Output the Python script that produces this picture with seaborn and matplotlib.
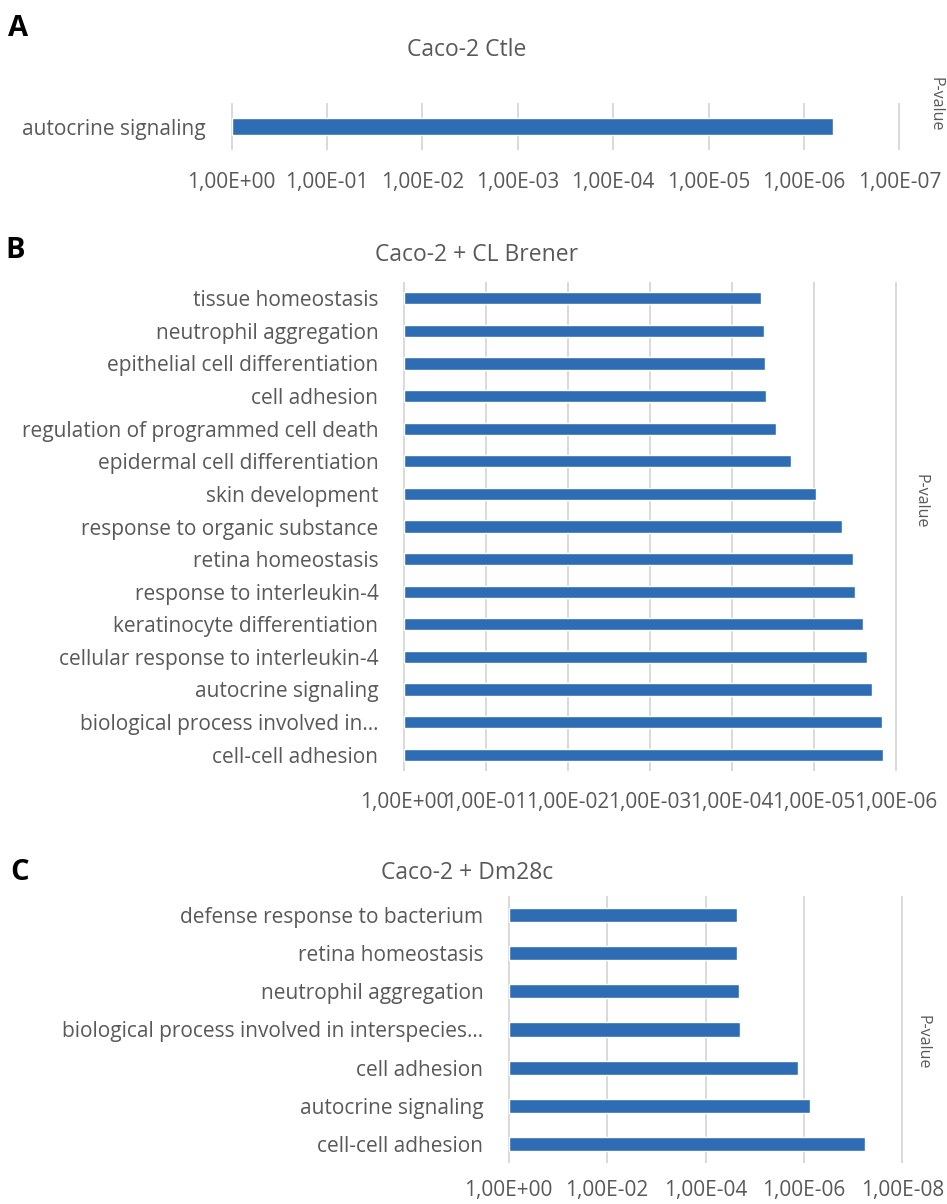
import numpy as np
import pandas as pd
import matplotlib
matplotlib.use("Agg")
import matplotlib.pyplot as plt
from matplotlib.ticker import FuncFormatter, FixedLocator
import seaborn as sns

# Enriched GO terms and their p-values (top to bottom as displayed)
ctle_terms = ["autocrine signaling"]
ctle_pvalues = [4.9e-7]

clb_terms = [
    "tissue homeostasis",
    "neutrophil aggregation",
    "epithelial cell differentiation",
    "cell adhesion",
    "regulation of programmed cell death",
    "epidermal cell differentiation",
    "skin development",
    "response to organic substance",
    "retina homeostasis",
    "response to interleukin-4",
    "keratinocyte differentiation",
    "cellular response to interleukin-4",
    "autocrine signaling",
    "biological process involved in\u2026",
    "cell-cell adhesion",
]
clb_pvalues = [4.42e-5, 4.11e-5, 3.95e-5, 3.84e-5, 2.88e-5, 1.93e-5, 9.5e-6,
               4.53e-6, 3.37e-6, 3.13e-6, 2.52e-6, 2.28e-6, 1.99e-6, 1.49e-6,
               1.43e-6]

dm_terms = [
    "defense response to bacterium",
    "retina homeostasis",
    "neutrophil aggregation",
    "biological process involved in interspecies\u2026",
    "cell adhesion",
    "autocrine signaling",
    "cell-cell adhesion",
]
dm_pvalues = [2.26e-5, 2.26e-5, 2.12e-5, 2.03e-5, 1.32e-6, 7.7e-7, 5.7e-8]

panel_titles = ["Caco-2 Ctle", "Caco-2 + CL Brener", "Caco-2 + Dm28c"]
panel_letters = ["A", "B", "C"]
legend_label = "P-value"

sns.set_style("white")
plt.rcParams["font.family"] = ["Open Sans", "DejaVu Sans"]

BAR = "#2E6DB4"
TXT = "#595959"
GRID = "#D9D9D9"

W, H = 947, 1204
fig = plt.figure(figsize=(W / 100, H / 100), dpi=100)


def box(l, t, r, b):
    return [l / W, 1 - b / H, (r - l) / W, (b - t) / H]


def fmt(v, pos):
    k = int(round(v))
    return f"1,00E{-k:+03d}"


def panel(rect, terms, pvals, decades, step, ypad, xpad):
    ax = fig.add_axes(rect)
    df = pd.DataFrame({"term": terms, "score": -np.log10(pvals)})
    sns.barplot(data=df, x="score", y="term", orient="h", color=BAR,
                saturation=1, width=0.37, ax=ax, zorder=2)
    ax.set_xlim(-0.004 * decades, decades * 1.004)
    ax.xaxis.set_major_locator(FixedLocator(np.arange(0, decades + 1, step)))
    ax.xaxis.set_major_formatter(FuncFormatter(fmt))
    ax.xaxis.grid(True, color=GRID, lw=1.4)
    ax.yaxis.grid(False)
    ax.set_axisbelow(True)
    for s in ax.spines.values():
        s.set_visible(False)
    ax.set_xlabel("")
    ax.set_ylabel("")
    ax.tick_params(axis="x", length=0, pad=xpad, labelsize=15, labelcolor=TXT)
    ax.tick_params(axis="y", length=0, pad=ypad, labelsize=15, labelcolor=TXT)
    return ax


panel(box(229, 103, 902, 150), ctle_terms, ctle_pvalues, 7, 1, 17, 16)
panel(box(402, 282, 898, 771), clb_terms, clb_pvalues, 6, 1, 17, 15)
panel(box(507, 896, 904, 1163), dm_terms, dm_pvalues, 8, 2, 17, 12)

# Chart titles
for (x, y), t in zip([(467, 50), (477, 255), (467, 873)], panel_titles):
    fig.text(x / W, 1 - y / H, t, ha="center", va="center", fontsize=16.5, color=TXT)

# Panel letters
for (x, y), t in zip([(18, 28), (15, 250), (20, 872)], panel_letters):
    fig.text(x / W, 1 - y / H, t, ha="center", va="center", fontsize=21,
             fontweight="bold", color="black")

# Legend labels on the right
for x, y in [(935, 104), (920, 501), (922, 1042)]:
    fig.text(x / W, 1 - y / H, legend_label, ha="center", va="center",
             rotation=270, fontsize=11.5, color=TXT)

fig.savefig("out.png", dpi=100)
